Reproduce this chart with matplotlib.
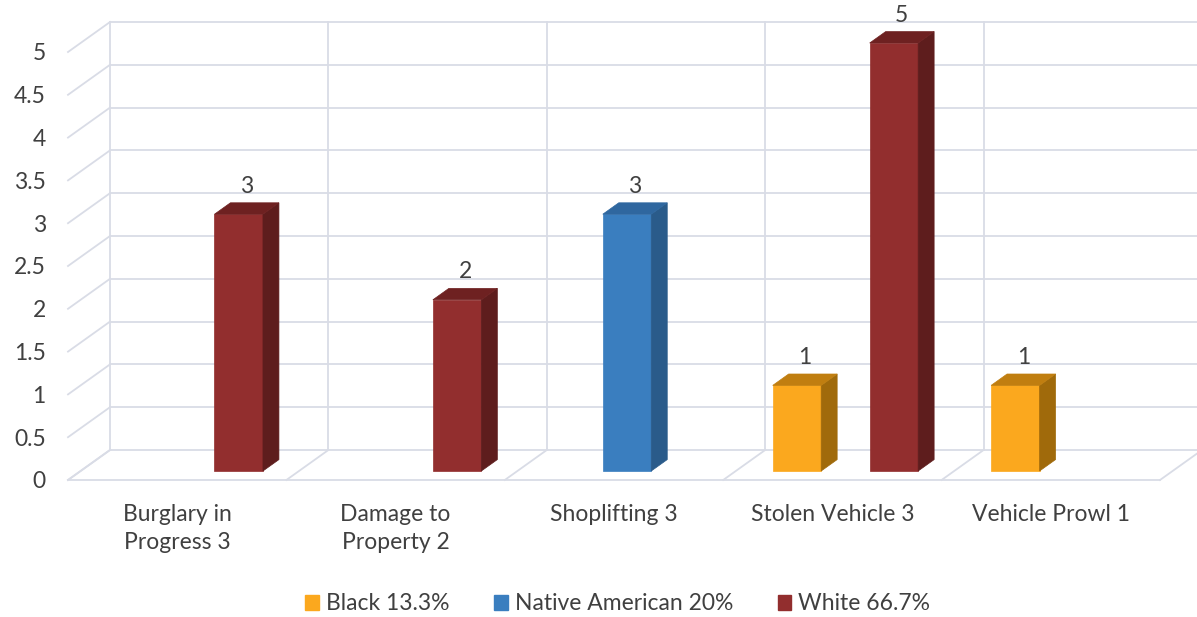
import matplotlib
matplotlib.use("Agg")
import matplotlib.pyplot as plt
from matplotlib.patches import Polygon, Patch

plt.rcParams['font.family'] = ['Lato', 'DejaVu Sans']

categories = ['Burglary in\nProgress 3', 'Damage to\nProperty 2', 'Shoplifting 3',
              'Stolen Vehicle 3', 'Vehicle Prowl 1']
series = ['Black 13.3%', 'Native American 20%', 'White 66.7%']
black = [0, 0, 0, 1, 1]
native = [0, 0, 3, 0, 0]
white = [3, 2, 0, 5, 0]
yticks = [0, 0.5, 1, 1.5, 2, 2.5, 3, 3.5, 4, 4.5, 5]

# front / side / top face colours per series
faces = [('#FBA81E', '#A06A0B', '#C07E10'),
         ('#3A7EBF', '#2A5B8A', '#2F679F'),
         ('#922E2E', '#5E1D1D', '#6E2121')]
grid_c = '#D9DCE6'
text_c = '#404040'
fs = 16.5

# oblique depth: full floor depth shifts by these amounts (data units)
DX, DY = 0.1923, 0.3505
d0, d1 = 0.30, 0.68           # bar depth range on the floor
gap, bw = 0.169, 0.222        # category margin and bar width

fig = plt.figure(figsize=(11.97, 6.17), dpi=100)
W, H = 1197, 617
ax = fig.add_axes([68 / W, (H - 480) / H, (1160 - 68) / W, (480 - 52) / H])
ax.set_xlim(0, 5)
ax.set_ylim(0, 5)
for s in ax.spines.values():
    s.set_visible(False)

n = len(categories)
ymax = 5
# back wall and side wall gridlines
for v in yticks:
    ax.plot([0, DX], [v, v + DY], color=grid_c, lw=1.3, clip_on=False, zorder=1)
    ax.plot([DX, n + DX], [v + DY, v + DY], color=grid_c, lw=1.3, clip_on=False, zorder=1)
for k in range(n + 1):
    ax.plot([k + DX, k + DX], [DY, ymax + DY], color=grid_c, lw=1.3, clip_on=False, zorder=1)
    ax.plot([k, k + DX], [0, DY], color=grid_c, lw=1.3, clip_on=False, zorder=1)
# floor front edge
ax.plot([0, n], [0, 0], color=grid_c, lw=1.3, clip_on=False, zorder=1)

bdx, bdy = (d1 - d0) * DX, (d1 - d0) * DY
for si, vals in enumerate([black, native, white]):
    fc, sc, tc = faces[si]
    for ci, h in enumerate(vals):
        if h == 0:
            continue
        x0 = ci + d0 * DX + gap + si * bw
        x1 = x0 + bw
        y0 = d0 * DY
        y1 = y0 + h
        z = 3 + ci
        ax.add_patch(Polygon([(x0, y0), (x1, y0), (x1, y1), (x0, y1)],
                             closed=True, fc=fc, ec=fc, lw=0.5, zorder=z, clip_on=False))
        ax.add_patch(Polygon([(x1, y0), (x1 + bdx, y0 + bdy), (x1 + bdx, y1 + bdy), (x1, y1)],
                             closed=True, fc=sc, ec=sc, lw=0.5, zorder=z, clip_on=False))
        ax.add_patch(Polygon([(x0, y1), (x1, y1), (x1 + bdx, y1 + bdy), (x0 + bdx, y1 + bdy)],
                             closed=True, fc=tc, ec=tc, lw=0.5, zorder=z, clip_on=False))
        ax.annotate(f'{h:g}', ((x0 + x1) / 2 + bdx / 2, y1 + bdy / 2),
                    xytext=(0, 16), textcoords='offset points', ha='center', va='center',
                    fontsize=fs, color=text_c, zorder=10, annotation_clip=False)

ax.set_yticks(yticks)
ax.set_yticklabels([f'{v:g}' for v in yticks])
ax.set_xticks([k + 0.5 for k in range(n)])
ax.set_xticklabels(categories, linespacing=1.45)
ax.tick_params(axis='y', length=0, pad=16, labelsize=fs, labelcolor=text_c)
ax.tick_params(axis='x', length=0, pad=17, labelsize=fs, labelcolor=text_c)

handles = [Patch(fc=faces[i][0], ec=faces[i][0]) for i in range(3)]
fig.legend(handles, series, loc='center', bbox_to_anchor=(0.516, 1 - 604 / H), ncol=3,
           frameon=False, fontsize=fs, labelcolor=text_c, handlelength=0.6,
           handleheight=0.6, handletextpad=0.3, columnspacing=1.95, borderpad=0)

fig.savefig('out.png', dpi=100)
